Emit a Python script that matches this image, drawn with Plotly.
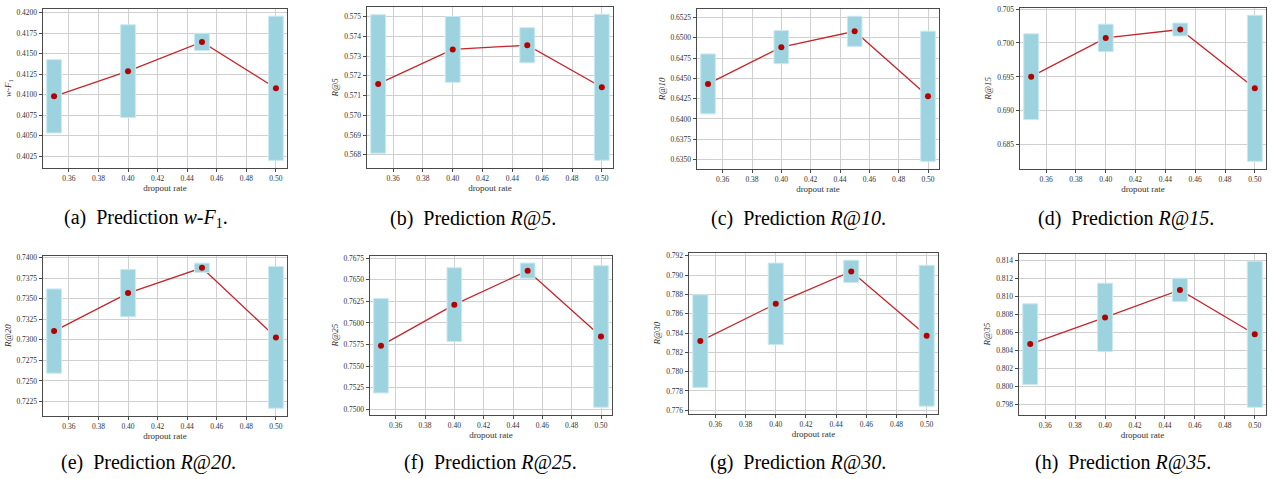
import plotly.graph_objects as go

# ---- data ----
dropout = [0.35, 0.40, 0.45, 0.50]
bar_width = 0.01

wf1_mean = [0.40979, 0.41286, 0.41642, 0.41077]
wf1_std = [0.00447, 0.00565, 0.00105, 0.00879]
r5_mean = [0.57159, 0.57334, 0.57355, 0.57142]
r5_std = [0.00351, 0.00167, 0.00089, 0.00370]
r10_mean = [0.64432, 0.64885, 0.65080, 0.64280]
r10_std = [0.00369, 0.00204, 0.00186, 0.00802]
r15_mean = [0.69503, 0.70074, 0.70198, 0.69332]
r15_std = [0.00632, 0.00202, 0.00095, 0.01076]
r20_mean = [0.73107, 0.73569, 0.73877, 0.73030]
r20_std = [0.00513, 0.00288, 0.00057, 0.00863]
r25_mean = [0.75737, 0.76212, 0.76605, 0.75843]
r25_std = [0.00547, 0.00427, 0.00088, 0.00820]
r30_mean = [0.78317, 0.78703, 0.79039, 0.78372]
r30_std = [0.00480, 0.00422, 0.00116, 0.00730]
r35_mean = [0.80468, 0.80764, 0.81070, 0.80578]
r35_std = [0.00448, 0.00380, 0.00130, 0.00811]

x_ticks = [0.36, 0.38, 0.40, 0.42, 0.44, 0.46, 0.48, 0.50]

panels = [
    dict(mean=wf1_mean, std=wf1_std, ytitle="<i>w-F</i><sub>1</sub>",
         yt0=0.4025, yt1=0.4200, ystep=0.0025, fmt=".4f",
         cap="(a)  Prediction <i>w-F</i><sub>1</sub>.",
         box=(43, 287, 6, 166), capx=146, capy=217),
    dict(mean=r5_mean, std=r5_std, ytitle="<i>R@5</i>",
         yt0=0.568, yt1=0.575, ystep=0.001, fmt=".3f",
         cap="(b)  Prediction <i>R@5</i>.",
         box=(367, 613, 4, 166), capx=473, capy=217),
    dict(mean=r10_mean, std=r10_std, ytitle="<i>R@10</i>",
         yt0=0.6350, yt1=0.6525, ystep=0.0025, fmt=".4f",
         cap="(c)  Prediction <i>R@10</i>.",
         box=(697, 939, 6, 167), capx=798, capy=217),
    dict(mean=r15_mean, std=r15_std, ytitle="<i>R@15</i>",
         yt0=0.685, yt1=0.705, ystep=0.005, fmt=".3f",
         cap="(d)  Prediction <i>R@15</i>.",
         box=(1020, 1266, 5, 167), capx=1126, capy=217),
    dict(mean=r20_mean, std=r20_std, ytitle="<i>R@20</i>",
         yt0=0.7225, yt1=0.7400, ystep=0.0025, fmt=".4f",
         cap="(e)  Prediction <i>R@20</i>.",
         box=(43, 287, 255, 416), capx=148, capy=463),
    dict(mean=r25_mean, std=r25_std, ytitle="<i>R@25</i>",
         yt0=0.7500, yt1=0.7675, ystep=0.0025, fmt=".4f",
         cap="(f)  Prediction <i>R@25</i>.",
         box=(370, 612, 255, 415), capx=490, capy=463),
    dict(mean=r30_mean, std=r30_std, ytitle="<i>R@30</i>",
         yt0=0.776, yt1=0.792, ystep=0.002, fmt=".3f",
         cap="(g)  Prediction <i>R@30</i>.",
         box=(689, 938, 252, 414), capx=798, capy=463),
    dict(mean=r35_mean, std=r35_std, ytitle="<i>R@35</i>",
         yt0=0.798, yt1=0.814, ystep=0.002, fmt=".3f",
         cap="(h)  Prediction <i>R@35</i>.",
         box=(1019, 1266, 253, 415), capx=1123, capy=463),
]

W, H = 1272, 479
FONT = "Liberation Serif"
RECT = "#9dd3df"
DOT = "#b30000"
LINE = "#c4262b"
GRID = "#d0d0d0"
FRAME = "#4a4a4a"

fig = go.Figure()
layout = dict(
    width=W, height=H, margin=dict(l=0, r=0, t=0, b=0),
    paper_bgcolor="white", plot_bgcolor="white", showlegend=False,
    font=dict(family=FONT, color="#222"),
)
annotations = []

for i, p in enumerate(panels):
    n = i + 1
    xa = "x" if n == 1 else f"x{n}"
    ya = "y" if n == 1 else f"y{n}"
    m, s = p["mean"], p["std"]
    # line (under rectangles)
    fig.add_trace(go.Scatter(x=dropout, y=m, mode="lines",
                             line=dict(color=LINE, width=1.3),
                             xaxis=xa, yaxis=ya, hoverinfo="skip"))
    # rectangles mean +/- std
    rx, ry = [], []
    for xv, mv, sv in zip(dropout, m, s):
        x0, x1 = xv - bar_width / 2, xv + bar_width / 2
        y0, y1 = mv - sv, mv + sv
        rx += [x0, x1, x1, x0, x0, None]
        ry += [y0, y0, y1, y1, y0, None]
    fig.add_trace(go.Scatter(x=rx, y=ry, mode="lines", fill="toself",
                             fillcolor=RECT,
                             line=dict(color="#cbe9f0", width=1),
                             xaxis=xa, yaxis=ya, hoverinfo="skip"))
    # mean points
    fig.add_trace(go.Scatter(x=dropout, y=m, mode="markers",
                             marker=dict(color=DOT, size=6),
                             xaxis=xa, yaxis=ya, hoverinfo="skip"))

    lo = min(a - b for a, b in zip(m, s))
    hi = max(a + b for a, b in zip(m, s))
    pad = 0.05 * (hi - lo)
    nt = int(round((p["yt1"] - p["yt0"]) / p["ystep"])) + 1
    yticks = [p["yt0"] + k * p["ystep"] for k in range(nt)]

    L, R, T, B = p["box"]
    axis_common = dict(
        showgrid=True, gridcolor=GRID, gridwidth=1,
        showline=True, linecolor=FRAME, linewidth=1, mirror=True,
        ticks="outside", ticklen=3.5, tickwidth=1, tickcolor=FRAME,
        tickfont=dict(family=FONT, size=7.5, color="#333"),
        zeroline=False,
    )
    layout["xaxis" if n == 1 else f"xaxis{n}"] = dict(
        axis_common, domain=[L / W, R / W], anchor=ya,
        range=[0.3425, 0.5075], tickvals=x_ticks, tickformat=".2f",
        title=dict(text="dropout rate", font=dict(family=FONT, size=9, color="#333"),
                   standoff=2),
    )
    layout["yaxis" if n == 1 else f"yaxis{n}"] = dict(
        axis_common, domain=[1 - B / H, 1 - T / H], anchor=xa,
        range=[lo - pad, hi + pad], tickvals=yticks, tickformat=p["fmt"],
        title=dict(text=p["ytitle"], font=dict(family=FONT, size=9, color="#333"),
                   standoff=3),
    )
    annotations.append(dict(
        text=p["cap"], x=p["capx"] / W, y=1 - p["capy"] / H,
        xref="paper", yref="paper", xanchor="center", yanchor="middle",
        showarrow=False, font=dict(family=FONT, size=20, color="black"),
    ))

layout["annotations"] = annotations
fig.update_layout(**layout)
fig.write_html(
    "out.html",
    config={"responsive": False, "displayModeBar": False},
    post_script="document.body.style.margin='0';document.body.style.overflow='hidden';",
)
